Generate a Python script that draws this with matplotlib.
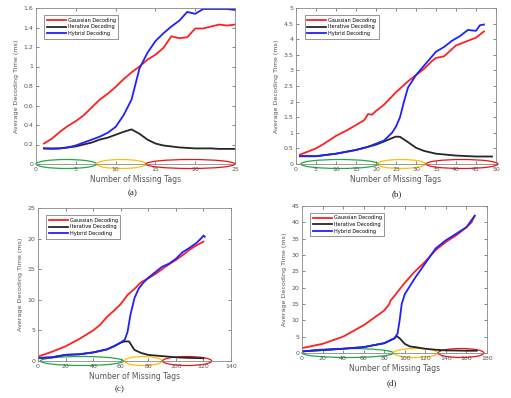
import matplotlib
matplotlib.use('Agg')
import matplotlib.pyplot as plt
from matplotlib.patches import Ellipse

# ---- panel (a) ----
a_x = list(range(1, 26))
a_gauss = [0.21, 0.26, 0.33, 0.39, 0.44, 0.50, 0.58, 0.66, 0.72, 0.79, 0.87, 0.94, 1.00,
           1.07, 1.12, 1.19, 1.31, 1.29, 1.30, 1.39, 1.39, 1.41, 1.43, 1.42, 1.43]
a_iter = [0.16, 0.16, 0.16, 0.17, 0.18, 0.20, 0.22, 0.25, 0.27, 0.30, 0.33, 0.355, 0.31,
          0.25, 0.21, 0.19, 0.18, 0.17, 0.165, 0.16, 0.16, 0.16, 0.155, 0.155, 0.155]
a_hybrid = [0.16, 0.155, 0.16, 0.17, 0.19, 0.22, 0.25, 0.28, 0.32, 0.38, 0.50, 0.66, 0.98,
            1.14, 1.26, 1.34, 1.41, 1.47, 1.56, 1.54, 1.59, 1.59, 1.59, 1.59, 1.58]

# ---- panel (b) ----
b_gx = [1, 3, 5, 7, 10, 13, 15, 17, 18, 19, 20, 22, 25, 28, 30, 32, 34, 35, 37, 40, 43, 45, 47]
b_gauss = [0.3, 0.4, 0.5, 0.65, 0.9, 1.1, 1.25, 1.4, 1.6, 1.58, 1.7, 1.9, 2.3, 2.65, 2.85,
           3.05, 3.3, 3.4, 3.45, 3.8, 3.95, 4.05, 4.25]
b_hx = [1, 5, 10, 15, 18, 20, 22, 24, 25, 26, 27, 28, 30, 33, 35, 37, 39, 41, 43, 44, 45, 46, 47]
b_hybrid = [0.25, 0.25, 0.33, 0.45, 0.55, 0.65, 0.75, 1.0, 1.2, 1.5, 2.0, 2.45, 2.85, 3.3,
            3.6, 3.75, 3.95, 4.1, 4.3, 4.28, 4.27, 4.45, 4.47]
b_ix = [1, 5, 10, 15, 18, 20, 22, 24, 25, 26, 28, 30, 32, 35, 40, 45, 49]
b_iter = [0.25, 0.25, 0.33, 0.45, 0.55, 0.62, 0.72, 0.83, 0.88, 0.87, 0.7, 0.52, 0.42,
          0.33, 0.27, 0.24, 0.24]

# ---- panel (c) ----
c_gx = [1, 10, 20, 30, 40, 45, 50, 55, 60, 65, 70, 75, 80, 85, 90, 95, 100, 105, 110, 115, 120]
c_gauss = [0.8, 1.5, 2.4, 3.6, 5.0, 5.9, 7.2, 8.2, 9.3, 10.8, 11.8, 12.9, 13.5, 14.2, 15.0,
           15.8, 16.5, 17.3, 18.2, 18.9, 19.5]
c_hx = [1, 10, 20, 30, 40, 50, 55, 60, 63, 65, 67, 70, 73, 76, 80, 85, 90, 95, 100, 105,
        110, 115, 119, 120, 121]
c_hybrid = [0.5, 0.6, 1.0, 1.1, 1.4, 1.9, 2.4, 3.0, 3.5, 4.8, 7.5, 10.3, 11.8, 12.7, 13.6,
            14.5, 15.4, 15.9, 16.7, 17.8, 18.5, 19.3, 20.2, 20.5, 20.3]
c_ix = [1, 10, 20, 30, 40, 50, 55, 60, 63, 66, 68, 70, 75, 80, 90, 100, 110, 120]
c_iter = [0.5, 0.6, 1.0, 1.1, 1.4, 1.9, 2.4, 3.0, 3.2, 3.2, 2.5, 1.8, 1.3, 1.0, 0.8, 0.6,
          0.5, 0.45]

# ---- panel (d) ----
d_gx = [0, 20, 40, 60, 80, 85, 86, 90, 100, 110, 120, 130, 140, 150, 160, 165, 168]
d_gauss = [1.5, 2.8, 5.0, 8.5, 13.0, 15.0, 16.0, 17.5, 21.5, 25.0, 28.0, 31.5, 34.0, 36.0,
           38.5, 40.0, 42.0]
d_hx = [0, 20, 40, 60, 80, 90, 93, 95, 97, 100, 110, 120, 130, 140, 150, 160, 168]
d_hybrid = [0.5, 0.9, 1.3, 1.8, 3.0, 4.5, 6.0, 10.0, 15.0, 18.0, 23.0, 27.5, 32.0, 34.5,
            36.5, 38.5, 42.0]
d_ix = [0, 20, 40, 60, 80, 90, 92, 95, 100, 105, 110, 120, 130, 140, 160, 170]
d_iter = [0.5, 0.9, 1.3, 1.8, 3.0, 4.5, 5.2, 4.5, 2.8, 2.0, 1.8, 1.3, 1.0, 0.8, 0.7, 0.7]

names = ['Gaussian Decoding', 'Iterative Decoding', 'Hybrid Decoding']

# panel settings: data, limits, ticks, ellipse x-ranges
panels = [
    dict(pos=[36, 8, 235, 164], lab='(a)', labxy=(133, 193),
         g=(a_x, a_gauss), i=(a_x, a_iter), h=(a_x, a_hybrid),
         xlim=(0, 25), ylim=(0, 1.6), xt=range(0, 26, 5),
         yt=[0, 0.2, 0.4, 0.6, 0.8, 1, 1.2, 1.4, 1.6],
         ell=[(0, 7.6), (7.6, 13.8), (13.8, 25)]),
    dict(pos=[296, 8, 496, 164], lab='(b)', labxy=(397, 194),
         g=(b_gx, b_gauss), i=(b_ix, b_iter), h=(b_hx, b_hybrid),
         xlim=(0, 50), ylim=(0, 5), xt=range(0, 51, 5),
         yt=[0, 0.5, 1, 1.5, 2, 2.5, 3, 3.5, 4, 4.5, 5],
         ell=[(1.2, 20.6), (20.3, 32.3), (32.5, 50.5)]),
    dict(pos=[38, 208, 231, 361], lab='(c)', labxy=(120, 389),
         g=(c_gx, c_gauss), i=(c_ix, c_iter), h=(c_hx, c_hybrid),
         xlim=(0, 140), ylim=(0, 25), xt=range(0, 141, 20),
         yt=range(0, 26, 5),
         ell=[(1.7, 62), (62.6, 90), (90.4, 126)]),
    dict(pos=[302, 206, 487, 353], lab='(d)', labxy=(392, 383),
         g=(d_gx, d_gauss), i=(d_ix, d_iter), h=(d_hx, d_hybrid),
         xlim=(0, 180), ylim=(0, 45), xt=range(0, 181, 20),
         yt=range(0, 46, 5),
         ell=[(0, 89), (89, 132), (132.5, 177)]),
]

W, H = 511, 398
fig = plt.figure(figsize=(W / 100, H / 100), dpi=100)
fig.patch.set_facecolor('white')

for p in panels:
    l, t, r, b = p['pos']
    ax = fig.add_axes([l / W, 1 - b / H, (r - l) / W, (b - t) / H])
    ax.plot(*p['g'], color='#ff2020', lw=1.3, label=names[0])
    ax.plot(*p['i'], color='#262626', lw=1.3, label=names[1])
    ax.plot(*p['h'], color='#2020ff', lw=1.3, label=names[2])
    ax.set_xlim(*p['xlim'])
    ax.set_ylim(*p['ylim'])
    ax.set_xticks(list(p['xt']))
    ax.set_yticks(list(p['yt']))
    ax.set_yticklabels(['%g' % v for v in p['yt']])
    ax.tick_params(direction='in', top=True, right=True, labelsize=4.5,
                   length=2, width=0.5, colors='#555555', pad=2)
    for s in ax.spines.values():
        s.set_color('#888888')
        s.set_linewidth(0.6)
    ax.set_xlabel('Number of Missing Tags', fontsize=5.5, color='#555555', labelpad=2)
    ax.set_ylabel('Average Decoding Time (ms)', fontsize=4.6, color='#555555', labelpad=3)
    leg = ax.legend(loc='upper left', fontsize=3.6, handlelength=3.8, borderpad=0.5,
                    labelspacing=0.35, handletextpad=0.4, fancybox=False,
                    edgecolor='#444444', bbox_to_anchor=(0.03, 0.97))
    leg.get_frame().set_linewidth(0.5)
    # coloured ellipses marking the three regions
    yspan = p['ylim'][1] - p['ylim'][0]
    eh = 9.0 / ((b - t)) * yspan
    for (x0, x1), c in zip(p['ell'], ['#22aa44', '#ffc000', '#ee1111']):
        e = Ellipse(((x0 + x1) / 2, 0), x1 - x0, eh, fill=False, edgecolor=c,
                    lw=0.9, clip_on=False)
        ax.add_patch(e)
    fig.text(p['labxy'][0] / W, 1 - p['labxy'][1] / H, p['lab'], ha='center',
             va='center', fontsize=6.5, color='#222222', family='Liberation Serif')

fig.savefig('out.png', dpi=100)
